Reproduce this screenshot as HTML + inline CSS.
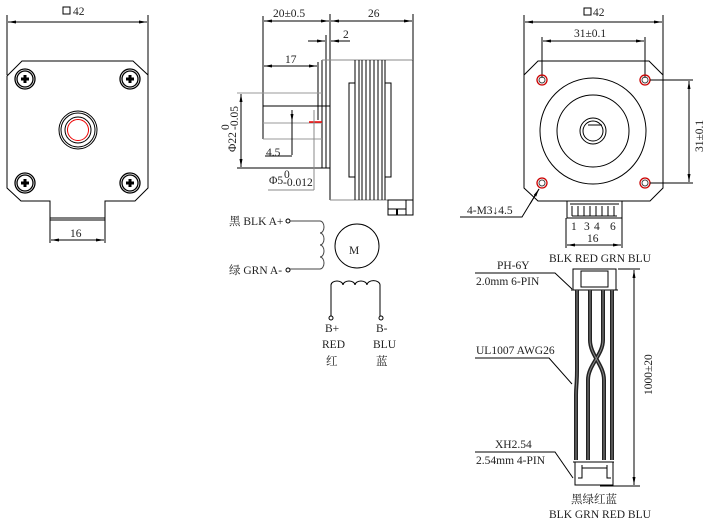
<!DOCTYPE html>
<html><head><meta charset="utf-8"><style>
html,body{margin:0;padding:0;background:#fff;}
svg{display:block;}
text{font-family:"Liberation Serif","Noto Serif CJK SC",serif;font-size:11.5px;fill:#222;}
</style></head><body>
<svg width="712" height="527" viewBox="0 0 712 527" xmlns="http://www.w3.org/2000/svg">
<defs>
<marker id="a" markerWidth="8" markerHeight="6" refX="8" refY="3" orient="auto-start-reverse"><path d="M0,1.5 L8,3 L0,4.5z" fill="#000"/></marker>
</defs>
<g stroke="#000" fill="none" stroke-width="1">
<!-- LEFT VIEW -->
<line x1="7" y1="15" x2="7" y2="75"/><line x1="148" y1="15" x2="148" y2="75"/>
<line x1="8" y1="22" x2="147" y2="22" marker-start="url(#a)" marker-end="url(#a)"/>
<path d="M7,76 L22,61 L133,61 L148,75 L148,188 L135,201 L105,201 L105,218 L50,218 L50,201 L21,201 L7,188 Z"/>
<line x1="50" y1="220" x2="105" y2="220"/>
<line x1="50" y1="218" x2="50" y2="243"/><line x1="105" y1="218" x2="105" y2="243"/>
<line x1="51" y1="240" x2="104" y2="240" marker-start="url(#a)" marker-end="url(#a)"/>
<g stroke-width="1.3">
<circle cx="25" cy="79" r="10"/><circle cx="25" cy="79" r="8"/>
<circle cx="130" cy="79" r="10"/><circle cx="130" cy="79" r="8"/>
<circle cx="25" cy="183" r="10"/><circle cx="25" cy="183" r="8"/>
<circle cx="130" cy="183" r="10"/><circle cx="130" cy="183" r="8"/>
<path d="M21,79h8M25,75v8M126,79h8M130,75v8M21,183h8M25,179v8M126,183h8M130,179v8" stroke-width="3"/>
</g>
<circle cx="78" cy="130" r="19"/><circle cx="78" cy="130" r="17"/><circle cx="78" cy="130" r="13"/>
<circle cx="78" cy="130" r="10.5" stroke="#e00"/>
<!-- SIDE VIEW -->
<line x1="263" y1="16" x2="263" y2="139"/><line x1="330" y1="14" x2="330" y2="200"/><line x1="413" y1="14" x2="413" y2="60"/>
<line x1="264" y1="21" x2="329" y2="21" marker-start="url(#a)" marker-end="url(#a)"/>
<line x1="331" y1="21" x2="412" y2="21" marker-start="url(#a)" marker-end="url(#a)"/>
<line x1="308" y1="41" x2="325" y2="41" marker-end="url(#a)"/><line x1="350" y1="41" x2="331" y2="41" marker-end="url(#a)"/>
<line x1="326" y1="35" x2="326" y2="168"/>
<line x1="322" y1="60" x2="322" y2="168"/>
<line x1="264" y1="66" x2="317" y2="66" marker-start="url(#a)" marker-end="url(#a)"/>
<line x1="318" y1="62" x2="318" y2="120"/>
<line x1="322" y1="60" x2="413" y2="60" stroke="#888"/>
<line x1="330" y1="200" x2="413" y2="200" stroke="#888"/>
<line x1="413" y1="60" x2="413" y2="200"/>
<line x1="237" y1="93" x2="322" y2="93" stroke="#999"/>
<line x1="237" y1="168" x2="330" y2="168"/>
<line x1="241" y1="94" x2="241" y2="167" marker-start="url(#a)" marker-end="url(#a)"/>
<line x1="263" y1="106" x2="330" y2="106"/>
<line x1="263" y1="123" x2="322" y2="123" stroke="#999"/>
<line x1="263" y1="139" x2="322" y2="139" stroke="#999"/>
<line x1="309" y1="122" x2="322" y2="122" stroke="#e00" stroke-width="1.5"/>
<line x1="292" y1="110" x2="292" y2="155"/>
<line x1="265" y1="156" x2="292" y2="156"/>
<line x1="292" y1="112" x2="292" y2="122" marker-end="url(#a)"/>
<line x1="314" y1="110" x2="314" y2="190" stroke="#888"/>
<line x1="268" y1="190" x2="314" y2="190" stroke="#888"/>
<path d="M355,60V200M359,60V200M362,60V200M366,60V200M370,60V200M374,60V200M378,60V200M382,60V200M385,60V200"/>
<rect x="349" y="83" width="6" height="94"/><rect x="385" y="83" width="6" height="94"/>
<rect x="388" y="200" width="18" height="15"/><rect x="406" y="200" width="7" height="15"/>
<line x1="388" y1="209" x2="406" y2="209"/><line x1="397" y1="209" x2="397" y2="215" stroke-width="2"/>
<!-- schematic -->
<circle cx="288" cy="221" r="2"/><circle cx="288" cy="270" r="2"/>
<path d="M290,221H320 a4,6 0 0 1 0,12 a4,6 0 0 1 0,12 a4,6 0 0 1 0,12 a4,6 0 0 1 0,12 H290" stroke="#444"/>
<circle cx="357" cy="246" r="22"/>
<path d="M331,316V285 a6,4 0 0 1 12,0 a6,4 0 0 1 12,0 a6,4 0 0 1 12,0 a6,4 0 0 1 13,0 V316"/>
<circle cx="331" cy="318" r="2"/><circle cx="381" cy="318" r="2"/>
<!-- RIGHT VIEW -->
<line x1="524" y1="15" x2="524" y2="75"/><line x1="663" y1="15" x2="663" y2="75"/>
<line x1="525" y1="22" x2="662" y2="22" marker-start="url(#a)" marker-end="url(#a)"/>
<line x1="542" y1="37" x2="542" y2="78"/><line x1="645" y1="37" x2="645" y2="78"/>
<line x1="543" y1="41" x2="644" y2="41" marker-start="url(#a)" marker-end="url(#a)"/>
<path d="M524,75 L538,61 L649,61 L663,75 L663,188 L650,201 L538,201 L524,188 Z"/>
<g stroke="#c00" stroke-width="1.3"><circle cx="542" cy="80" r="5"/><circle cx="645" cy="80" r="5"/><circle cx="542" cy="183" r="5"/><circle cx="645" cy="183" r="5"/></g>
<g stroke="#444"><circle cx="542" cy="80" r="3"/><circle cx="645" cy="80" r="3"/><circle cx="542" cy="183" r="3"/><circle cx="645" cy="183" r="3"/></g>
<circle cx="593" cy="131" r="53"/><circle cx="593" cy="131" r="36"/>
<circle cx="593" cy="131" r="13"/><circle cx="593" cy="131" r="10"/>
<line x1="588" y1="125" x2="602" y2="125"/>
<line x1="650" y1="80" x2="693" y2="80"/><line x1="650" y1="183" x2="693" y2="183"/>
<line x1="689" y1="81" x2="689" y2="182" marker-start="url(#a)" marker-end="url(#a)"/>
<path d="M460,217 H522 L539,189" /><line x1="530" y1="204" x2="539" y2="189" marker-end="url(#a)"/>
<rect x="567" y="201" width="55" height="17"/>
<path d="M570,204H619M572,206v10M578,206v10M584,206v10M590,206v10M596,206v10M602,206v10M608,206v10M614,206v10M572,216h45"/>
<line x1="566" y1="218" x2="566" y2="248"/><line x1="622" y1="218" x2="622" y2="248"/>
<line x1="567" y1="245" x2="621" y2="245" marker-start="url(#a)" marker-end="url(#a)"/>
<!-- harness -->
<rect x="573" y="269" width="43" height="21"/><rect x="581" y="271" width="27" height="16"/>
<line x1="571" y1="290" x2="618" y2="290"/>
<g stroke="#222" stroke-width="4">
<path d="M577,290 V370 C577,385 576,385 576,395 V460"/>
<path d="M590,290 V340 C590,355 604,365 604,380 V460"/>
<path d="M603,290 V340 C603,355 588,365 588,380 V460"/>
<path d="M612,290 V370 C612,385 612,385 612,395 V460"/>
</g>
<g stroke="#888" stroke-width="1">
<path d="M577,290 V370 C577,385 576,385 576,395 V460"/>
<path d="M590,290 V340 C590,355 604,365 604,380 V460"/>
<path d="M603,290 V340 C603,355 588,365 588,380 V460"/>
<path d="M612,290 V370 C612,385 612,385 612,395 V460"/>
</g>
<path d="M573,462H614M575,462V485H613V462M582,465V478h-4M607,465v13h4M582,468H607"/>
<line x1="618" y1="269" x2="640" y2="269"/><line x1="600" y1="486" x2="640" y2="486"/>
<line x1="634" y1="270" x2="634" y2="485" marker-start="url(#a)" marker-end="url(#a)"/>
<path d="M475,273H555L572,289"/><path d="M475,358H549L572,384"/><path d="M475,452H555L573,478"/>
</g>
<!-- TEXT -->
<rect x="63" y="7" width="7" height="7" fill="none" stroke="#000"/>
<text x="73" y="15" font-size="12">42</text>
<text x="70" y="237">16</text>
<text x="273" y="17">20±0.5</text><text x="368" y="17">26</text>
<text x="343" y="38">2</text><text x="285" y="63">17</text>
<text x="266" y="156">4.5</text>
<text x="269" y="184">Φ5</text><text x="284" y="178" font-size="7">0</text><text x="283" y="186" font-size="7">-0.012</text>
<text transform="translate(236,152) rotate(-90)">Φ22</text>
<text transform="translate(229,130) rotate(-90)" font-size="7">0</text>
<text transform="translate(238,130) rotate(-90)" font-size="7">-0.05</text>
<text x="229" y="225">黑 BLK A+</text><text x="229" y="274">绿 GRN A-</text>
<text x="349" y="254" font-family="Liberation Sans,sans-serif" font-size="20">M</text>
<text x="325" y="332">B+</text><text x="322" y="348">RED</text><text x="326" y="365">红</text>
<text x="376" y="332">B-</text><text x="373" y="348">BLU</text><text x="376" y="365">蓝</text>
<rect x="584" y="8" width="7" height="7" fill="none" stroke="#000"/>
<text x="593" y="16" font-size="12">42</text>
<text x="574" y="37">31±0.1</text>
<text transform="translate(703,152) rotate(-90)">31±0.1</text>
<text x="467" y="214">4-M3↓4.5</text>
<text x="571" y="230">1</text><text x="584" y="230">3</text><text x="594" y="230">4</text><text x="610" y="230">6</text>
<text x="587" y="242">16</text>
<text x="549" y="262">BLK RED GRN BLU</text>
<text x="497" y="269">PH-6Y</text><text x="476" y="285">2.0mm 6-PIN</text>
<text x="476" y="354">UL1007 AWG26</text>
<text x="495" y="448">XH2.54</text><text x="476" y="464">2.54mm 4-PIN</text>
<text transform="translate(652,395) rotate(-90)">1000±20</text>
<text x="571" y="503">黑绿红蓝</text>
<text x="549" y="518">BLK GRN RED BLU</text>
</svg>
</body></html>
